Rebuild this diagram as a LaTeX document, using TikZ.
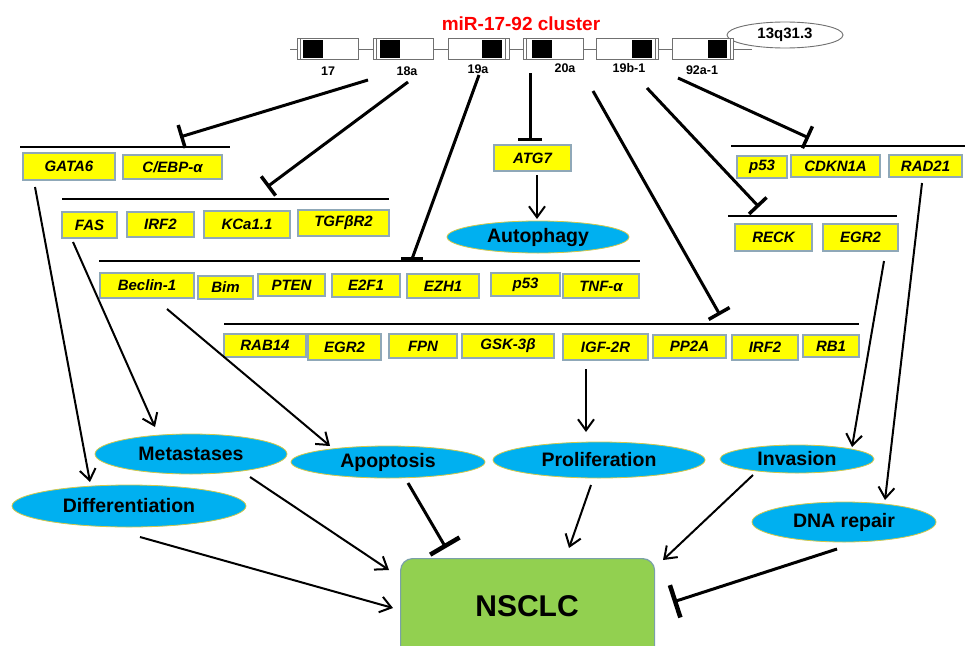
\documentclass[tikz,border=0pt]{standalone}
\usepackage{fontspec}
\setmainfont{Liberation Sans}
\usetikzlibrary{arrows.meta,shapes.geometric,calc}
\definecolor{ybox}{HTML}{FFFF00}
\definecolor{yedge}{HTML}{8FA8B8}
\definecolor{procblue}{HTML}{00B0F0}
\definecolor{procedge}{HTML}{D2C84A}
\definecolor{nsgreen}{HTML}{92D050}
\definecolor{nsedge}{HTML}{7AA0A8}
\definecolor{titlered}{HTML}{FF0000}
\definecolor{locgray}{HTML}{707070}
\newcommand{\mirgene}[5]{%
  \draw[locgray, line width=0.9pt, fill=white] (#1,38) rectangle (#2,59);
  \fill[black] (#3,39.5) rectangle (#4,57.5);
  \draw[locgray, line width=0.7pt] (#5,38) -- (#5,59);
}
\tikzset{
  gene/.style={draw=yedge, fill=ybox, line width=1.1pt, inner sep=0pt,
    font=\fontsize{15}{15}\selectfont\bfseries\itshape},
  proc/.style={ellipse, draw=procedge, line width=0.8pt, fill=procblue, inner sep=0pt,
    font=\fontsize{19.5}{20}\selectfont\bfseries},
  lbl/.style={font=\fontsize{12.5}{13}\selectfont\bfseries, inner sep=0pt},
  tline/.style={line width=3pt, -{Bar[width=24pt,line width=3.5pt]}},
  plainline/.style={line width=3pt},
  arr/.style={line width=2pt, -{Straight Barb[length=11pt,width=16pt,line width=2pt]}},
  bigT/.style={line width=3pt, -{Bar[width=34pt,line width=4.5pt]}},
  grp/.style={line width=1.6pt},
}
\begin{document}
\begin{tikzpicture}[x=1pt,y=-1pt]
\clip (0,0) rectangle (965,645);
\fill[white] (0,0) rectangle (965,645);

% ---------- cluster ----------
\node[font=\fontsize{19}{19}\selectfont\bfseries, text=titlered] (title) at (521,24) {miR-17-92 cluster};
\node[ellipse, draw=locgray, line width=0.9pt, fill=white, minimum width=116pt, minimum height=26pt,
      inner sep=0pt, font=\fontsize{15}{15}\selectfont\bfseries] (locus) at (785,35) {13q31.3};
\coordinate (bbL) at (290,49);
\coordinate (bbR) at (752,49);
\draw[locgray, line width=0.9pt] (bbL) -- (bbR);
\mirgene{297}{358}{303}{323}{300}
\mirgene{373}{433}{380}{400}{376}
\mirgene{448}{509}{482}{502}{505}
\mirgene{523}{583}{532}{552}{526}
\mirgene{596}{658}{632}{652}{655}
\mirgene{672}{733}{708}{727}{730}
\node[lbl] (l17) at (328,71) {17};
\node[lbl] (l18a) at (407,71) {18a};
\node[lbl] (l19a) at (478,69) {19a};
\node[lbl] (l20a) at (565,68) {20a};
\node[lbl] (l19b) at (629,68) {19b-1};
\node[lbl] (l92a) at (702,70) {92a-1};

% ---------- group bars ----------
\coordinate (g1a) at (20,147);  \coordinate (g1b) at (230,147);
\coordinate (g2a) at (62,199);  \coordinate (g2b) at (389,199);
\coordinate (g3a) at (99,261);  \coordinate (g3b) at (640,261);
\coordinate (g4a) at (224,324); \coordinate (g4b) at (859,324);
\coordinate (r1a) at (731,146); \coordinate (r1b) at (965,146);
\coordinate (r2a) at (728,216); \coordinate (r2b) at (897,216);
\draw[grp] (g1a) -- (g1b);
\draw[grp] (g2a) -- (g2b);
\draw[grp] (g3a) -- (g3b);
\draw[grp] (g4a) -- (g4b);
\draw[grp] (r1a) -- (r1b);
\draw[grp] (r2a) -- (r2b);

% ---------- top inhibitory lines ----------
\coordinate (s1) at (368,80);  \coordinate (e1) at (180,137);
\coordinate (s2) at (408,82);  \coordinate (e2) at (267,187);
\coordinate (s3) at (479,75);  \coordinate (e3) at (412,259);
\coordinate (s4) at (530,73);  \coordinate (e4) at (530,141);
\coordinate (s5) at (593,91);  \coordinate (e5) at (720,315);
\coordinate (s6) at (647,88);  \coordinate (e6) at (759,207);
\coordinate (s7) at (678,78);  \coordinate (e7) at (809,138);
\draw[tline] (s1) -- (e1);
\draw[tline] (s2) -- (e2);
\draw[plainline] (s3) -- (e3);
\draw[line width=4pt] ($(e3)+(-11,0)$) -- ($(e3)+(11,0)$);
\draw[tline] (s4) -- (e4);
\draw[tline] (s5) -- (e5);
\draw[tline] (s6) -- (e6);
\draw[tline] (s7) -- (e7);

% ---------- gene boxes ----------
\node[gene, minimum width=92pt, minimum height=27pt] (GATA6) at (69,166.5) {GATA6};
\node[gene, minimum width=99pt, minimum height=24pt] (CEBP) at (172.5,167) {C/EBP-α};
\node[gene, minimum width=55pt, minimum height=26pt] (FAS) at (89.5,225) {FAS};
\node[gene, minimum width=67pt, minimum height=25pt] (IRFa) at (160.5,224.5) {IRF2};
\node[gene, minimum width=86pt, minimum height=27pt] (KCa) at (247,224.5) {KCa1.1};
\node[gene, minimum width=91pt, minimum height=26pt] (TGF) at (343.5,223) {TGFβR2};
\node[gene, minimum width=94pt, minimum height=25pt] (Beclin) at (147,285.5) {Beclin-1};
\node[gene, minimum width=55pt, minimum height=23pt] (Bim) at (225.5,287.5) {Bim};
\node[gene, minimum width=67pt, minimum height=22pt] (PTEN) at (291.5,285) {PTEN};
\node[gene, minimum width=68pt, minimum height=23pt] (E2F1) at (366,285.5) {E2F1};
\node[gene, minimum width=72pt, minimum height=24pt] (EZH1) at (443,286) {EZH1};
\node[gene, minimum width=69pt, minimum height=23pt] (p53a) at (525.5,284.5) {p53};
\node[gene, minimum width=76pt, minimum height=24pt] (TNF) at (601,286) {TNF-α};
\node[gene, minimum width=82pt, minimum height=23pt] (RAB14) at (265,345.5) {RAB14};
\node[gene, minimum width=73pt, minimum height=26pt] (EGRa) at (344.5,347) {EGR2};
\node[gene, minimum width=68pt, minimum height=24pt] (FPN) at (423,346) {FPN};
\node[gene, minimum width=92pt, minimum height=24pt] (GSK) at (508,346) {GSK-3β};
\node[gene, minimum width=85pt, minimum height=26pt] (IGF) at (605.5,347) {IGF-2R};
\node[gene, minimum width=73pt, minimum height=23pt] (PP2A) at (689.5,346.5) {PP2A};
\node[gene, minimum width=66pt, minimum height=25pt] (IRFb) at (765,347.5) {IRF2};
\node[gene, minimum width=56pt, minimum height=22pt] (RB1) at (831,346) {RB1};
\node[gene, minimum width=77pt, minimum height=26pt] (ATG7) at (532.5,158) {ATG7};
\node[gene, minimum width=50pt, minimum height=22pt] (p53b) at (762,167) {p53};
\node[gene, minimum width=89pt, minimum height=22pt] (CDKN) at (835.5,166) {CDKN1A};
\node[gene, minimum width=73pt, minimum height=22pt] (RAD21) at (925.5,166) {RAD21};
\node[gene, minimum width=77pt, minimum height=27pt] (RECK) at (773.5,237.5) {RECK};
\node[gene, minimum width=75pt, minimum height=27pt] (EGRb) at (860.5,237.5) {EGR2};

% ---------- processes ----------
\node[proc, minimum width=182pt, minimum height=32pt] (auto) at (538,237) {Autophagy};
\node[proc, minimum width=192pt, minimum height=40pt] (meta) at (191,454) {Metastases};
\node[proc, minimum width=194pt, minimum height=32pt] (apop) at (388,462) {Apoptosis};
\node[proc, minimum width=234pt, minimum height=42pt] (diff) at (129,506) {Differentiation};
\node[proc, minimum width=212pt, minimum height=36pt] (prol) at (599,460) {Proliferation};
\node[proc, minimum width=154pt, minimum height=28pt] (inv) at (797,459) {Invasion};
\node[proc, minimum width=184pt, minimum height=40pt] (dna) at (844,522) {DNA repair};

\node[draw=nsedge, fill=nsgreen, rounded corners=12pt, line width=1.2pt, minimum width=254pt,
      minimum height=110pt, anchor=north west] (nsclc) at (400,558) {};
\node[font=\fontsize{30}{30}\selectfont\bfseries] (nstxt) at (527,606) {NSCLC};

% ---------- activating arrows ----------
\coordinate (a0s) at (537,175); \coordinate (a0e) at (537,219);
\coordinate (a1s) at (35,187);  \coordinate (a1e) at (90,482);
\coordinate (a2s) at (73,242);  \coordinate (a2e) at (155,427);
\coordinate (a3s) at (167,309); \coordinate (a3e) at (330,446);
\coordinate (a4s) at (586,369); \coordinate (a4e) at (586,432);
\coordinate (a5s) at (884,261); \coordinate (a5e) at (852,447);
\coordinate (a6s) at (922,183); \coordinate (a6e) at (885,500);
\draw[arr] (a0s) -- (a0e);
\draw[arr] (a1s) -- (a1e);
\draw[arr] (a2s) -- (a2e);
\draw[arr] (a3s) -- (a3e);
\draw[arr] (a4s) -- (a4e);
\draw[arr] (a5s) -- (a5e);
\draw[arr] (a6s) -- (a6e);

% ---------- into NSCLC ----------
\coordinate (b1s) at (140,537); \coordinate (b1e) at (393,608);
\coordinate (b2s) at (250,477); \coordinate (b2e) at (389,570);
\coordinate (b3s) at (408,483); \coordinate (b3e) at (446,548);
\coordinate (b4s) at (591,485); \coordinate (b4e) at (569,548);
\coordinate (b5s) at (753,475); \coordinate (b5e) at (663,560);
\coordinate (b6s) at (837,549); \coordinate (b6e) at (673,602);
\draw[arr] (b1s) -- (b1e);
\draw[arr] (b2s) -- (b2e);
\draw[bigT] (b3s) -- (b3e);
\draw[arr] (b4s) -- (b4e);
\draw[arr] (b5s) -- (b5e);
\draw[bigT] (b6s) -- (b6e);
\end{tikzpicture}
\end{document}
